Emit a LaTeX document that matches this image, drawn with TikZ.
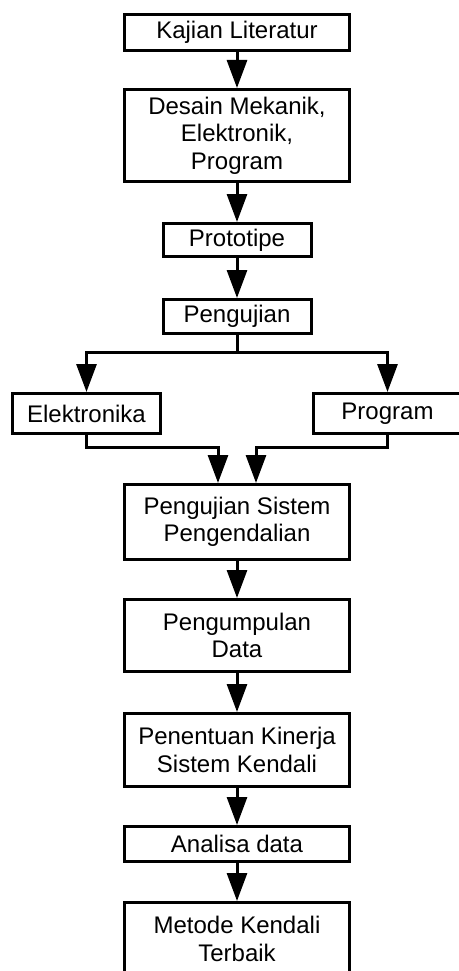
\documentclass[tikz,border=0pt]{standalone}
\usepackage{fontspec}
\setmainfont{Liberation Sans}
\usetikzlibrary{arrows.meta,positioning}
\tikzset{
	basic/.style = {draw, rectangle, line width=3pt, inner sep=0pt, align=center, font=\fontsize{24}{27.5}\selectfont},
	wide/.style = {basic, minimum width=225pt},
	small/.style = {basic, minimum width=148pt}
}

\begin{document}
\begin{tikzpicture}[x=1pt, y=1pt,
			line width=3pt,
			>={Triangle[length=28pt,width=20pt]}]
			\useasboundingbox (0,0) rectangle (458,-971);
			
			% main column, top part
			\node[wide, minimum height=36pt] (b1) at (237,-32.5) {Kajian Literatur};
			\node[wide, minimum height=92pt, below=36pt of b1] (b2) {Desain Mekanik,\\Elektronik,\\Program};
			\node[small, minimum height=33pt, below=39pt of b2] (b3) {Prototipe};
			\node[small, minimum height=34pt, below=40pt of b3] (b4) {Pengujian};
			
			% the two branches
			\node[small, minimum height=40pt] (el) at (86.5,-413.5) {Elektronika};
			\node[small, minimum height=40pt] (pr) at (387.5,-413.5) {Program};
			
			% main column, bottom part
			\node[wide, minimum height=75pt] (b5) at (237,-522) {Pengujian Sistem\\Pengendalian};
			\node[wide, minimum height=72pt, below=37pt of b5] (b6) {Pengumpulan\\Data};
			\node[wide, minimum height=73pt, below=39pt of b6] (b7) {Penentuan Kinerja\\Sistem Kendali};
			\node[wide, minimum height=35pt, below=37pt of b7] (b8) {Analisa data};
			\node[wide, minimum height=73pt, below=38pt of b8] (b9) {Metode Kendali\\Terbaik};
			
			% straight arrows down the column
			\foreach \a/\b in {b1/b2,b2/b3,b3/b4,b5/b6,b6/b7,b7/b8,b8/b9}
			\draw[->] (\a) -- (\b);
			
			% split into the two branches
			\draw (b4.south) -- ++(0,-17) coordinate (split);
			\draw[->] (split) -| (el.north);
			\draw[->] (split) -| (pr.north);
			
			% branches join again
			\draw[->] (el.south) -- ++(0,-12) -| ([xshift=-19pt]b5.north);
			\draw[->] (pr.south) -- ++(0,-12) -| ([xshift=19pt]b5.north);
		\end{tikzpicture}
\end{document}
